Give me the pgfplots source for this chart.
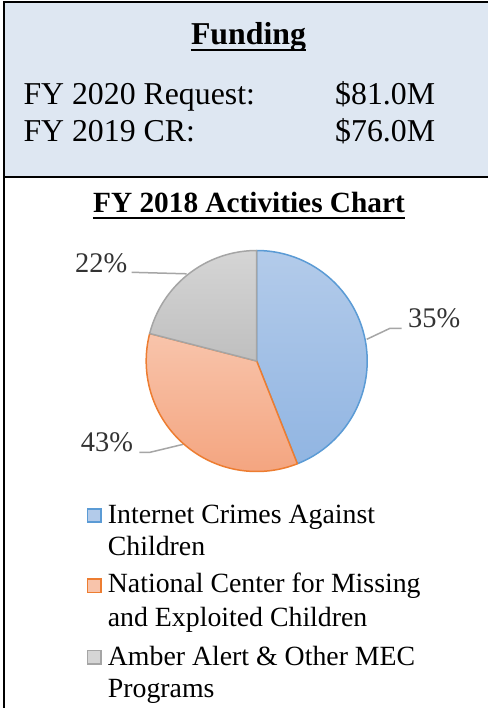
\documentclass[border=0pt]{standalone}
\usepackage{fontspec}
\setmainfont{Liberation Serif}
\usepackage{pgfplots}
\pgfplotsset{compat=1.18}
\usepackage{pgfplotstable}

\definecolor{boxblue}{HTML}{DEE7F2}
\definecolor{pieblue}{HTML}{5B9BD5}
\definecolor{pieorange}{HTML}{ED7D31}
\definecolor{piegray}{HTML}{A5A5A5}
\definecolor{blueTop}{HTML}{B3CBEA}
\definecolor{blueBot}{HTML}{91B5E2}
\definecolor{orangeTop}{HTML}{F8C4AB}
\definecolor{orangeBot}{HTML}{F4A580}
\definecolor{grayTop}{HTML}{D5D5D5}
\definecolor{grayBot}{HTML}{BFBFBF}
\definecolor{leader}{HTML}{A6A6A6}

% slice sizes (percent of the circle) and the labels printed beside them
\pgfplotstableread{
value label
44 35
35 43
21 22
}\piedata
\pgfplotstablegetelem{0}{value}\of\piedata \let\va\pgfplotsretval
\pgfplotstablegetelem{1}{value}\of\piedata \let\vb\pgfplotsretval
\pgfplotstablegetelem{2}{value}\of\piedata \let\vc\pgfplotsretval
\pgfplotstablegetelem{0}{label}\of\piedata \let\la\pgfplotsretval
\pgfplotstablegetelem{1}{label}\of\piedata \let\lb\pgfplotsretval
\pgfplotstablegetelem{2}{label}\of\piedata \let\lc\pgfplotsretval
\pgfmathsetmacro\aA{90}
\pgfmathsetmacro\aB{\aA-3.6*\va}
\pgfmathsetmacro\aC{\aB-3.6*\vb}
\pgfmathsetmacro\aD{\aC-3.6*\vc}

\begin{document}%
\begin{tikzpicture}
\useasboundingbox (0pt,0pt) rectangle (487pt,-708pt);
\begin{scope}[x=1pt,y=-1pt]
\fill[white] (0,0) rectangle (487,708);
\fill[boxblue] (4,2.5) rectangle (490,177);
\draw[line width=1.6pt] (3.2,2.2) -- (490,2.2);
\draw[line width=2pt] (3.2,177) -- (490,177);
\draw[line width=1.6pt] (4,1.4) -- (4,708);

\node[anchor=base, inner sep=0pt, font=\fontsize{31.8}{36}\selectfont\bfseries] (f) at (248.5,45) {Funding};
\draw[line width=2pt] ([yshift=-5.5pt]f.base west) -- ([yshift=-5.5pt]f.base east);

\node[anchor=base west, inner sep=0pt, font=\fontsize{31.8}{36}\selectfont] at (23.3,105) {FY 2020 Request:};
\node[anchor=base west, inner sep=0pt, font=\fontsize{31.8}{36}\selectfont] at (23.3,141.7) {FY 2019 CR:};
\node[anchor=base west, inner sep=0pt, font=\fontsize{31.8}{36}\selectfont] at (335,105) {\$81.0M};
\node[anchor=base west, inner sep=0pt, font=\fontsize{31.8}{36}\selectfont] at (335,141.7) {\$76.0M};

\node[anchor=base, inner sep=0pt, font=\fontsize{29.3}{34}\selectfont\bfseries] (t) at (249,213) {FY 2018 Activities Chart};
\draw[line width=2pt] ([yshift=-5pt]t.base west) -- ([yshift=-5pt]t.base east);

% leader lines and data labels
\draw[leader, line width=1.5pt] (366.7,339.3) -- (390,328.3) -- (401.7,328.3);
\draw[leader, line width=1.5pt] (131.7,272.3) -- (186.7,273.8);
\draw[leader, line width=1.5pt] (139.3,452.3) -- (150,452.3) -- (183.3,444.3);
\node[anchor=base west, inner sep=0pt, font=\fontsize{28.4}{33}\selectfont, text=black!80] at (408,327.7) {\la\%};
\node[anchor=base west, inner sep=0pt, font=\fontsize{28.4}{33}\selectfont, text=black!80] at (75,272) {\lc\%};
\node[anchor=base west, inner sep=0pt, font=\fontsize{28.4}{33}\selectfont, text=black!80] at (80.7,451.7) {\lb\%};

% legend
\fill[blueTop, draw=pieblue, line width=1.5pt] (87.5,509) rectangle (101,522);
\fill[orangeTop, draw=pieorange, line width=1.5pt] (87.5,579) rectangle (101,592.5);
\fill[grayTop, draw=piegray, line width=1.5pt] (87.5,650.5) rectangle (101,664);
\node[anchor=base west, inner sep=0pt, font=\fontsize{27.8}{32}\selectfont] at (107.7,523.3) {Internet Crimes Against};
\node[anchor=base west, inner sep=0pt, font=\fontsize{27.8}{32}\selectfont] at (107.7,555) {Children};
\node[anchor=base west, inner sep=0pt, font=\fontsize{27.8}{32}\selectfont] at (107.7,592.7) {National Center for Missing};
\node[anchor=base west, inner sep=0pt, font=\fontsize{27.8}{32}\selectfont] at (107.7,626) {and Exploited Children};
\node[anchor=base west, inner sep=0pt, font=\fontsize{27.8}{32}\selectfont] at (107.7,665) {Amber Alert \& Other MEC};
\node[anchor=base west, inner sep=0pt, font=\fontsize{27.8}{32}\selectfont] at (107.7,697) {Programs};
\end{scope}

\begin{axis}[at={(256.7pt,-361pt)}, anchor=center, scale only axis,
  width=221pt, height=221pt, xmin=-1, xmax=1, ymin=-1, ymax=1,
  hide axis, clip=false]
\addplot[data cs=polar, domain=\aB:\aA, samples=120, draw=pieblue, line width=1.5pt,
  line join=round, top color=blueTop, bottom color=blueBot] ({x},{1}) -- (axis cs:0,0) -- cycle;
\addplot[data cs=polar, domain=\aC:\aB, samples=120, draw=pieorange, line width=1.5pt,
  line join=round, top color=orangeTop, bottom color=orangeBot] ({x},{1}) -- (axis cs:0,0) -- cycle;
\addplot[data cs=polar, domain=\aD:\aC, samples=80, draw=piegray, line width=1.5pt,
  line join=round, top color=grayTop, bottom color=grayBot] ({x},{1}) -- (axis cs:0,0) -- cycle;
\end{axis}
\end{tikzpicture}%
\end{document}
